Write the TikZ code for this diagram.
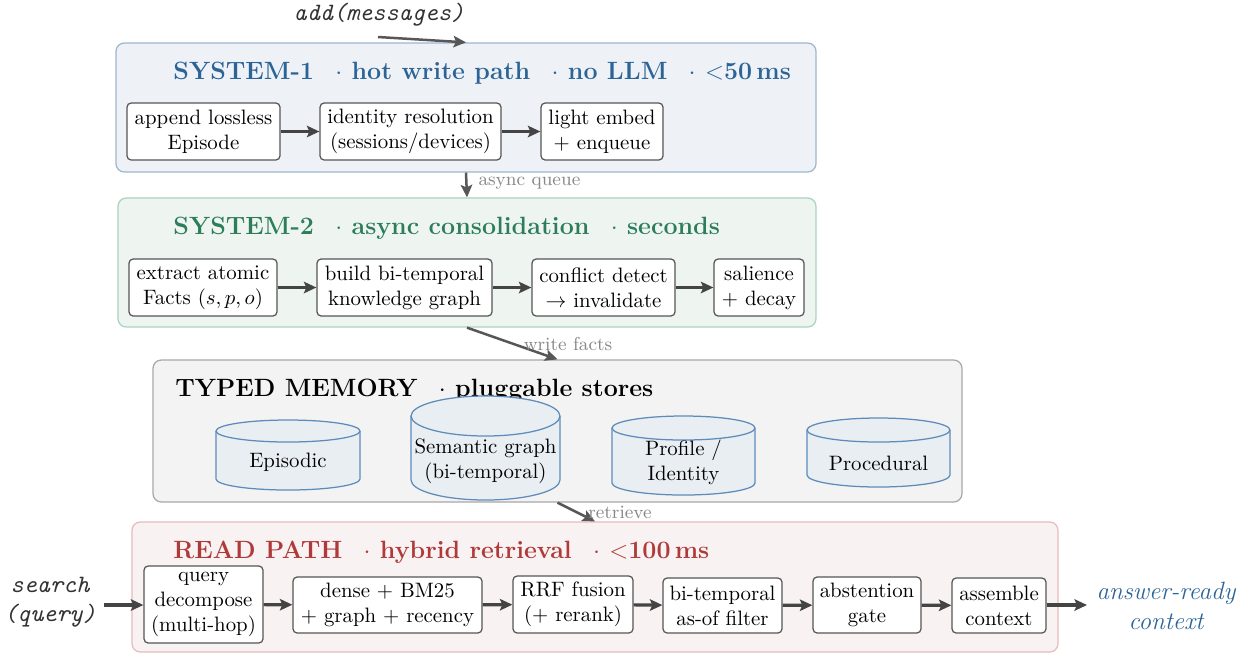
\documentclass[tikz,border=0pt]{standalone}
\usetikzlibrary{arrows.meta,fit}
\definecolor{bluet}{HTML}{2C6496}
\definecolor{bluefill}{HTML}{EEF2F6}
\definecolor{blueline}{HTML}{9EB7CE}
\definecolor{greent}{HTML}{2E7D5A}
\definecolor{greenfill}{HTML}{EEF5F1}
\definecolor{greenline}{HTML}{A9D3BE}
\definecolor{memfill}{HTML}{F3F3F3}
\definecolor{memline}{HTML}{A8A8A8}
\definecolor{cylfillc}{HTML}{E9EEF3}
\definecolor{cyllinec}{HTML}{5D8CB8}
\definecolor{redt}{HTML}{B03A3A}
\definecolor{redfill}{HTML}{F9F2F2}
\definecolor{redline}{HTML}{E6BCBC}
\definecolor{boxline}{HTML}{555555}
\definecolor{arrowc}{HTML}{444444}
\definecolor{labelc}{HTML}{888888}
\definecolor{monoc}{HTML}{333333}
\newcommand\mycyl[8]{%
  \path[cylbody] (#2-#5,-#3-#6) -- (#2-#5,-#4+#6)
    arc[start angle=180,end angle=360,x radius=#5,y radius=#6]
    -- (#2+#5,-#3-#6)
    arc[start angle=0,end angle=180,x radius=#5,y radius=#6] -- cycle;
  \draw[cylline] (#2-#5,-#3-#6) arc[start angle=180,end angle=360,x radius=#5,y radius=#6];
  \node[cyltext] (#1) at (#2,-#7) {#8};
}
\newcommand\sep{\hspace{0.85em}$\cdot$ }
\begin{document}
\begin{tikzpicture}[x=0.48pt,y=0.48pt,
  wh/.style 2 args={minimum width=#1*0.48pt, minimum height=#2*0.48pt},
  procbox/.style={draw=boxline, line width=0.6pt, fill=white, rounded corners=2pt, align=center, inner sep=2pt, font=\normalsize},
  flow/.style={-{Stealth[length=6pt,width=5.5pt,inset=1.2pt]}, line width=1.5pt, draw=arrowc},
  link/.style={-{Stealth[length=6pt,width=5.5pt,inset=1.2pt]}, line width=1.2pt, draw=arrowc!90},
  lbl/.style={font=\small, text=labelc, inner sep=1pt},
  cont/.style={rounded corners=4pt, line width=0.6pt, inner sep=0pt},
  title/.style={anchor=west, font=\large\bfseries, inner sep=0pt},
  cylbody/.style={draw=cyllinec, fill=cylfillc, line width=0.6pt},
  cylline/.style={draw=cyllinec, line width=0.6pt},
  cyltext/.style={align=center, inner sep=1pt, font=\normalsize},
  mono/.style={font=\large\ttfamily\itshape, text=monoc, align=center, inner sep=1pt}
]
\useasboundingbox (0,0) rectangle (1250,-653);

% ---------- SYSTEM-1
\node[cont, draw=blueline, fill=bluefill, fit={(116,-43) (816,-172)}] (S1) {};
\node[title, text=bluet] (S1t) at (173,-73) {SYSTEM-1\sep hot write path\sep no LLM\sep $<$50\,ms};
\node[procbox, wh={153}{57}] (a1) at (203.5,-131.5) {append lossless\\Episode};
\node[procbox, wh={181}{57}] (a2) at (410.5,-131.5) {identity resolution\\(sessions/devices)};
\node[procbox, wh={122}{57}] (a3) at (602,-131.5) {light embed\\+ enqueue};
\draw[flow] (a1) -- (a2);
\draw[flow] (a2) -- (a3);

% input
\node[mono] (add) at (379,-15) {add(messages)};
\coordinate (addstart) at (378,-37);
\draw[link] (addstart) -- (S1.north);

% ---------- SYSTEM-2
\node[cont, draw=greenline, fill=greenfill, fit={(118,-198) (816,-327)}] (S2) {};
\node[title, text=greent] (S2t) at (173,-228) {SYSTEM-2\sep async consolidation\sep seconds};
\node[procbox, wh={148}{57}] (b1) at (203,-287.5) {extract atomic\\Facts $(s,p,o)$};
\node[procbox, wh={175}{57}] (b2) at (404.5,-287.5) {build bi-temporal\\knowledge graph};
\node[procbox, wh={143}{57}] (b3) at (603.5,-287.5) {conflict detect\\$\rightarrow$ invalidate};
\node[procbox, wh={90}{57}] (b4) at (759,-287.5) {salience\\+ decay};
\draw[flow] (b1) -- (b2);
\draw[flow] (b2) -- (b3);
\draw[flow] (b3) -- (b4);

\draw[link] (S1.south) -- (S2.north);
\node[lbl, anchor=west] (lq) at (476,-183) {async queue};

% ---------- TYPED MEMORY
\node[cont, draw=memline, fill=memfill, fit={(153,-360) (962,-502)}] (M) {};
\node[title, text=black] (Mt) at (175,-390) {TYPED MEMORY\sep pluggable stores};
\mycyl{c1}{288}{420}{490}{72}{11}{462}{Episodic}
\mycyl{c2}{485.5}{396}{500}{74.5}{20}{461}{Semantic graph\\(bi-temporal)}
\mycyl{c3}{683.5}{416}{495}{71.5}{12}{462}{Profile /\\Identity}
\mycyl{c4}{878.5}{418}{487}{71.5}{12}{463}{Procedural}

\draw[link] (S2.south) -- (M.north);
\node[lbl] (lw) at (568,-344) {write facts};

% ---------- READ PATH
\node[cont, draw=redline, fill=redfill, fit={(132,-522) (1058,-652)}] (R) {};
\node[title, text=redt] (Rt) at (173,-552) {READ PATH\sep hybrid retrieval\sep $<$100\,ms};
\node[procbox, wh={119}{77}] (r1) at (203.5,-604.5) {query\\decompose\\(multi-hop)};
\node[procbox, wh={189}{56}] (r2) at (387.5,-605) {dense + BM25\\+ graph + recency};
\node[procbox, wh={120}{57}] (r3) at (573,-604.5) {RRF fusion\\(+ rerank)};
\node[procbox, wh={119}{55}] (r4) at (722.5,-605.5) {bi-temporal\\as-of filter};
\node[procbox, wh={108}{56}] (r5) at (867,-605) {abstention\\gate};
\node[procbox, wh={94}{55}] (r6) at (999,-605.5) {assemble\\context};
\draw[flow] (r1) -- (r2);
\draw[flow] (r2) -- (r3);
\draw[flow] (r3) -- (r4);
\draw[flow] (r4) -- (r5);
\draw[flow] (r5) -- (r6);

\draw[link] (M.south) -- (R.north);
\node[lbl] (lr) at (620,-512) {retrieve};

\node[mono] (search) at (50,-602) {search\\(query)};
\coordinate (sstart) at (104,-605);
\draw[flow] (sstart) -- (r1.west |- sstart);
\node[font=\large\itshape, text=bluet, align=center, inner sep=1pt] (ans) at (1166,-606) {answer-ready\\context};
\coordinate (aend) at (1087,-605);
\draw[flow] (r6.east |- aend) -- (aend);
\end{tikzpicture}
\end{document}
